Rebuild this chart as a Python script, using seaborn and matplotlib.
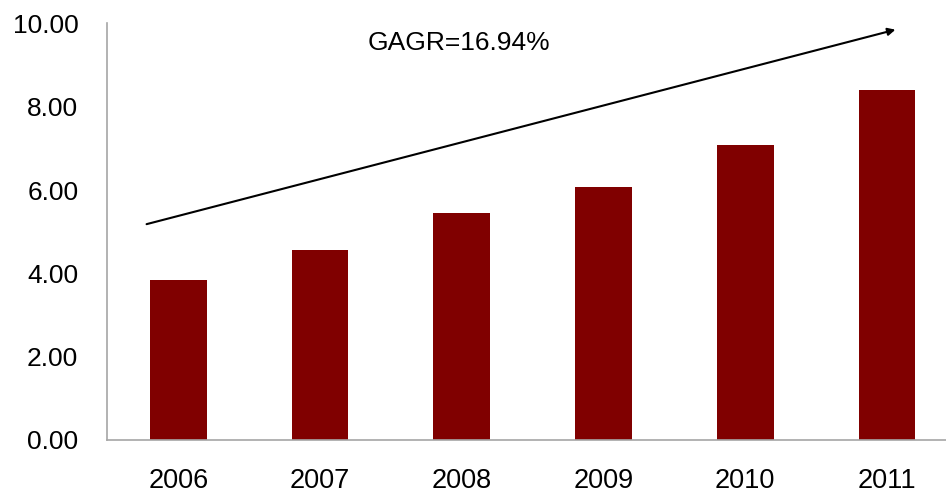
import matplotlib
matplotlib.use("Agg")
import matplotlib.pyplot as plt
from matplotlib.ticker import FixedLocator, FormatStrFormatter
import seaborn as sns
import pandas as pd

years = ["2006", "2007", "2008", "2009", "2010", "2011"]
values = [3.84, 4.56, 5.45, 6.07, 7.08, 8.40]
growth_label = "GAGR=16.94%"
y_ticks = [0, 2, 4, 6, 8, 10]

sns.set_style("white")
plt.rcParams["font.family"] = ["Liberation Sans", "DejaVu Sans"]

df = pd.DataFrame({"year": years, "value": values})

fig = plt.figure(figsize=(9.46, 4.92), dpi=100)
ax = fig.add_axes([0.1136, 0.1059, 0.8864, 0.8465])

sns.barplot(data=df, x="year", y="value", color="#800000", saturation=1,
            width=0.40, ax=ax, edgecolor="none")

ax.set_ylim(0, 10)
ax.set_xlim(-0.5, 5.417)
ax.set_xlabel("")
ax.set_ylabel("")

axis_gray = "#a6a6a6"
for side in ("top", "right"):
    ax.spines[side].set_visible(False)
for side in ("left", "bottom"):
    ax.spines[side].set_color(axis_gray)
    ax.spines[side].set_linewidth(1.2)

ax.yaxis.set_major_locator(FixedLocator(y_ticks))
ax.yaxis.set_major_formatter(FormatStrFormatter("%.2f"))
ax.tick_params(axis="y", direction="in", length=6.5, width=1.0, color=axis_gray,
               labelsize=19, pad=21, labelcolor="black")

# category labels centred under bars, tick marks between categories
ax.tick_params(axis="x", which="major", length=0, labelsize=19.5, pad=20,
               labelcolor="black")
ax.xaxis.set_minor_locator(FixedLocator([i + 0.5 for i in range(len(years) - 1)]))
ax.tick_params(axis="x", which="minor", direction="in", length=6, width=1.0,
               color=axis_gray)

# trend arrow with growth annotation
ax.annotate("", xy=(5.06, 9.85), xytext=(-0.224, 5.18),
            arrowprops=dict(arrowstyle="-|>", color="black", lw=1.5,
                            mutation_scale=11, shrinkA=0, shrinkB=0),
            annotation_clip=False)
ax.text(1.98, 9.52, growth_label, ha="center", va="center", fontsize=19,
        color="black")

fig.savefig("out.png", dpi=100)
